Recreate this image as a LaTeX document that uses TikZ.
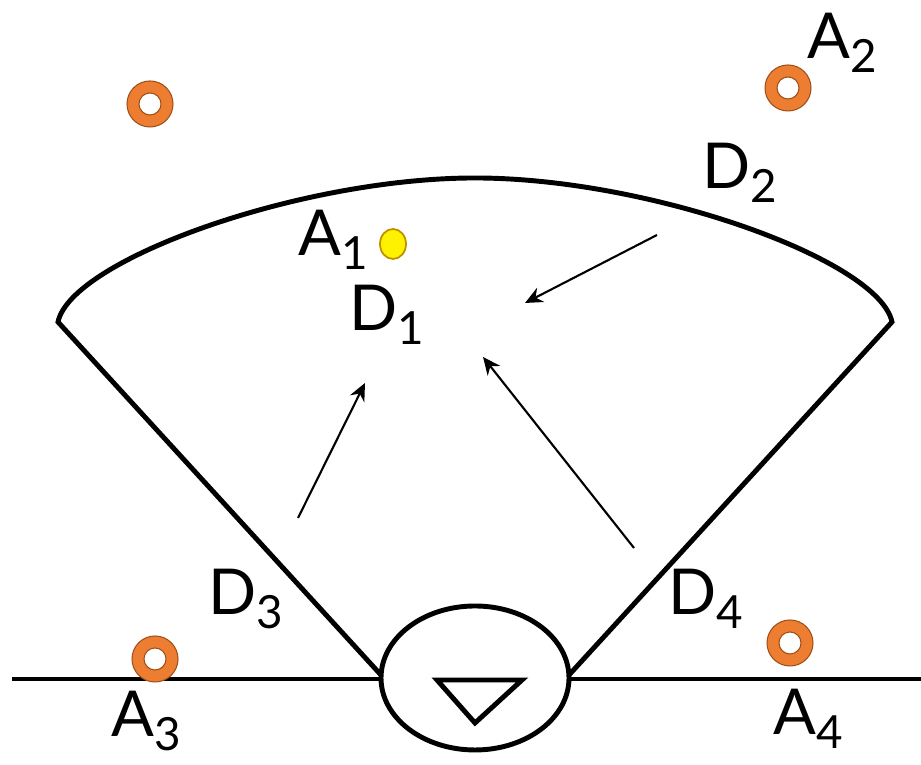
\documentclass[tikz,border=0pt]{standalone}
\usepackage{fontspec}
\setmainfont{Lato}
\usepackage{tikz}
\usetikzlibrary{arrows.meta}

\definecolor{ringorange}{RGB}{237,125,49}
\definecolor{ringedge}{RGB}{160,80,25}
\definecolor{dotedge}{RGB}{191,144,0}

\newcommand{\lbl}[2]{#1\raisebox{-0.45ex}{\fontsize{13}{13}\selectfont #2}}

\tikzset{
  ring/.style={fill=ringorange,draw=ringedge,line width=0.3pt,even odd rule},
  lab/.style={font=\fontsize{18}{20}\selectfont,inner sep=0pt},
  motion/.style={line width=0.6pt,-{Stealth[length=5pt,width=4.5pt]}},
}

\begin{document}
\begin{tikzpicture}[x=0.01cm,y=0.01cm]
\useasboundingbox (0,0) rectangle (921,765);
% fan
\coordinate (fl) at (58,443);
\coordinate (ft) at (475,587);
\coordinate (fr) at (892,443);
\coordinate (bl) at (381,90);
\coordinate (br) at (569,90);
\draw[line width=1.4pt] (bl) -- (fl) .. controls (71,505) and (300,587) .. (ft)
  .. controls (650,587) and (879,505) .. (fr) -- (br);
% ground line and sensor
\draw[line width=1.4pt] (12,86) -- (381,86);
\draw[line width=1.4pt] (569,86) -- (921,86);
\draw[line width=1.4pt] (475,87) ellipse[x radius=94,y radius=72];
\draw[line width=1.4pt,line join=miter] (437,85) -- (522,85) -- (475,42) -- cycle;
% rings
\filldraw[ring] (150,661) circle (23) (150,661) circle (11);
\filldraw[ring] (788,677) circle (23) (788,677) circle (11);
\filldraw[ring] (155,106) circle (23) (155,106) circle (11);
\filldraw[ring] (790,122) circle (23) (790,122) circle (11);
\filldraw[fill=yellow,draw=dotedge,line width=0.5pt] (393,521) ellipse[x radius=13,y radius=15];
% labels
\node[lab] (a1) at (333,525) {\lbl{A}{1}};
\node[lab] (a2) at (842,722) {\lbl{A}{2}};
\node[lab] (a3) at (146,44) {\lbl{A}{3}};
\node[lab] (a4) at (808,46) {\lbl{A}{4}};
\node[lab] (d1) at (387,450) {\lbl{D}{1}};
\node[lab] (d2) at (740,592) {\lbl{D}{2}};
\node[lab] (d3) at (246,166) {\lbl{D}{3}};
\node[lab] (d4) at (706,166) {\lbl{D}{4}};
% motion arrows
\coordinate (s2) at (657,530);
\coordinate (e2) at (525,462);
\coordinate (s3) at (298,247);
\coordinate (e3) at (365,382);
\coordinate (s4) at (634,217);
\coordinate (e4) at (483,408);
\draw[motion] (s2) -- (e2);
\draw[motion] (s3) -- (e3);
\draw[motion] (s4) -- (e4);
\end{tikzpicture}
\end{document}
